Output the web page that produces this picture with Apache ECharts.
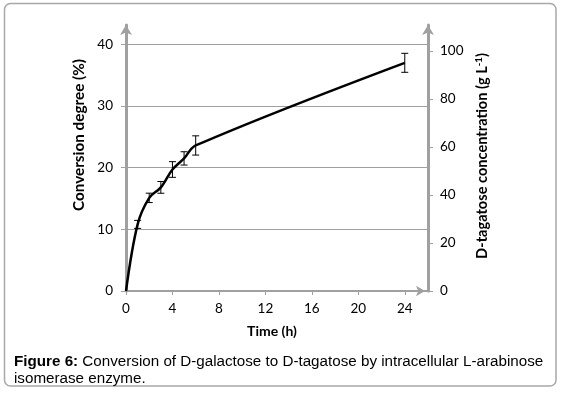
<!DOCTYPE html>
<html><head><meta charset="utf-8">
<script src="https://cdn.jsdelivr.net/npm/echarts@6/dist/echarts.min.js"></script>
<style>html,body{margin:0;padding:0;background:#fff}#c{width:564px;height:394px}</style>
</head><body><div id="c"></div>
<script>
// ---- data ----
const timeH = [0, 1, 2, 3, 4, 5, 6, 24];
const conversion = [0, 10.8, 15.1, 16.8, 19.7, 21.5, 23.6, 37.0];
const errorPct = [0, 0.65, 0.76, 0.95, 1.27, 1.08, 1.56, 1.54];
const xTicks = [0, 4, 8, 12, 16, 20, 24];
const leftTicks = [0, 10, 20, 30, 40];
const rightTicks = [0, 20, 40, 60, 80, 100];
const xTitle = 'Time (h)';
const leftTitle = 'Conversion degree (%)';
const rightTitleMain = 'D-tagatose concentration (g L';
const rightTitleSup = '-1';
const captionBold = 'Figure 6:';
const captionLine1 = ' Conversion of D-galactose to D-tagatose by intracellular L-arabinose';
const captionLine2 = 'isomerase enzyme.';

const lineData = timeH.map((t, i) => [t, conversion[i]]);
const errData = timeH.map((t, i) => [t, conversion[i], errorPct[i]]).filter(d => d[2] > 0);

const axisGray = '#a0a0a0';
const tickFont = 'Lato, "Open Sans", sans-serif';

const chart = echarts.init(document.getElementById('c'), null, {renderer: 'canvas'});
chart.setOption({
  backgroundColor: '#fff',
  animation: false,
  grid: {left: 126, right: 136, top: 25, bottom: 103, containLabel: false},
  xAxis: {
    type: 'value', min: 0, max: 26, interval: 4,
    axisLine: {show: true, lineStyle: {color: axisGray, width: 2}, symbol: ['none', 'arrow'], symbolSize: [8, 9], symbolOffset: [0, -3]},
    axisTick: {show: true, length: 4, lineStyle: {color: axisGray, width: 1}, customValues: xTicks},
    axisLabel: {color: '#000', fontFamily: tickFont, fontSize: 13.5, margin: 11, customValues: xTicks},
    splitLine: {show: false}
  },
  yAxis: [{
    type: 'value', min: 0, max: 43.13, interval: 10, position: 'left',
    axisLine: {show: true, lineStyle: {color: axisGray, width: 3}, symbol: ['none', 'arrow'], symbolSize: [9, 10]},
    axisTick: {show: true, length: 5, lineStyle: {color: axisGray, width: 1}, customValues: leftTicks},
    axisLabel: {color: '#000', fontFamily: tickFont, fontSize: 13.5, margin: 13, customValues: leftTicks},
    splitLine: {show: true, lineStyle: {color: axisGray, width: 1}}
  }, {
    type: 'value', min: 0, max: 110.8, interval: 20, position: 'right',
    axisLine: {show: true, lineStyle: {color: axisGray, width: 3}, symbol: ['none', 'arrow'], symbolSize: [9, 10]},
    axisTick: {show: true, length: 5, lineStyle: {color: axisGray, width: 1}, customValues: rightTicks},
    axisLabel: {color: '#000', fontFamily: tickFont, fontSize: 13.5, margin: 12, customValues: rightTicks},
    splitLine: {show: false}
  }],
  series: [{
    type: 'line', data: lineData, yAxisIndex: 0, smooth: 0.35, showSymbol: false,
    lineStyle: {color: '#000', width: 2.5}, z: 3
  }, {
    type: 'custom', yAxisIndex: 0, data: errData, z: 4,
    renderItem: function (params, api) {
      const x = api.value(0), y = api.value(1), e = api.value(2);
      const top = api.coord([x, y + e]), bot = api.coord([x, y - e]);
      const hw = 3.5;
      const st = {stroke: '#000', lineWidth: 1};
      return {type: 'group', children: [
        {type: 'line', shape: {x1: top[0], y1: top[1], x2: bot[0], y2: bot[1]}, style: st},
        {type: 'line', shape: {x1: top[0] - hw, y1: top[1], x2: top[0] + hw, y2: top[1]}, style: st},
        {type: 'line', shape: {x1: bot[0] - hw, y1: bot[1], x2: bot[0] + hw, y2: bot[1]}, style: st}
      ]};
    }
  }],
  graphic: [
    {type: 'rect', shape: {x: 4.5, y: 3.5, width: 551.5, height: 382.5, r: 6}, style: {fill: 'none', stroke: '#a8a8a8', lineWidth: 1.5}, z: -1},
    {type: 'text', x: 272, y: 331, style: {text: xTitle, font: 'bold 14px ' + tickFont, fill: '#000', align: 'center', verticalAlign: 'middle'}},
    {type: 'text', x: 79, y: 135, rotation: Math.PI / 2, style: {text: leftTitle, font: 'bold 15.3px ' + tickFont, fill: '#000', align: 'center', verticalAlign: 'middle'}},
    {type: 'text', x: 482, y: 156, rotation: Math.PI / 2, style: {
      text: '{m|' + rightTitleMain + '}{s|' + rightTitleSup + '}{m|)}',
      align: 'center', verticalAlign: 'middle',
      rich: {m: {font: 'bold 14.6px ' + tickFont, color: '#000'}, s: {font: 'bold 9.5px ' + tickFont, color: '#000', verticalAlign: 'top', padding: [0, 0, 6, 0]}}
    }},
    {type: 'text', x: 14, y: 370.3, style: {
      text: '{b|' + captionBold + '}{r|' + captionLine1 + '}\n{r|' + captionLine2 + '}',
      verticalAlign: 'middle', align: 'left', lineHeight: 17.3,
      rich: {b: {font: 'bold 15.2px "Liberation Sans", Arial, sans-serif', color: '#000', lineHeight: 17.3}, r: {font: '15.2px "Liberation Sans", Arial, sans-serif', color: '#000', lineHeight: 17.3}}
    }}
  ]
});
</script>
</body></html>
